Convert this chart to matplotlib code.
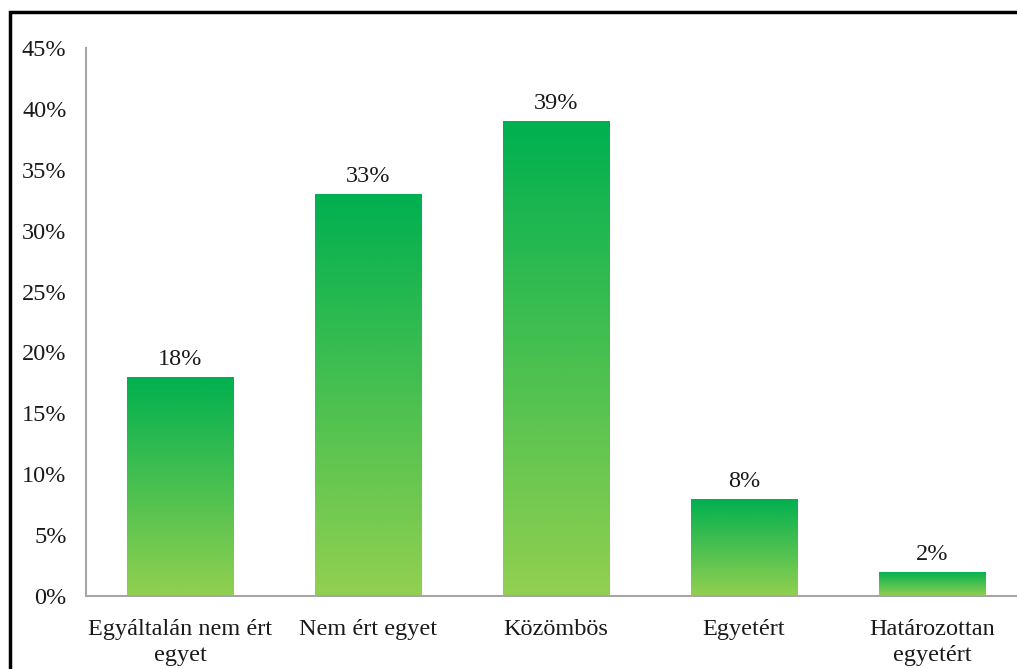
import matplotlib
matplotlib.use("Agg")
import matplotlib.pyplot as plt
import numpy as np
from matplotlib.patches import Rectangle
from matplotlib.colors import LinearSegmentedColormap

categories = ["Egyáltalán nem ért\negyet", "Nem ért egyet", "Közömbös", "Egyetért", "Határozottan\negyetért"]
values = [18, 33, 39, 8, 2]
yticks = [0, 5, 10, 15, 20, 25, 30, 35, 40, 45]

plt.rcParams['font.family'] = ['Liberation Serif', 'DejaVu Serif']

W, H = 1017, 669
fig = plt.figure(figsize=(W / 100, H / 100), dpi=100)
ax = fig.add_axes([86 / W, (H - 596) / H, 940 / W, 548 / H])

cmap = LinearSegmentedColormap.from_list("g", ["#92D050", "#00B050"])
grad = np.linspace(0, 1, 256).reshape(-1, 1)
x = np.arange(len(categories))
bw = 0.565
bars = ax.bar(x, values, width=bw, color="none", edgecolor="none", zorder=2)
for b, v in zip(bars, values):
    im = ax.imshow(grad, cmap=cmap, aspect="auto", origin="lower",
                   extent=[b.get_x(), b.get_x() + b.get_width(), 0, v], zorder=2)
    im.set_clip_path(b)
    ax.annotate(f"{v}%", (b.get_x() + b.get_width() / 2, v), xytext=(0, 5),
                textcoords="offset points", ha="center", va="bottom",
                fontsize=17.5, color="#1a1a1a")

ax.set_xlim(-0.5, len(categories) - 0.5)
ax.set_ylim(0, 45)
ax.set_yticks(yticks)
ax.set_yticklabels([f"{t}%" for t in yticks], fontsize=17.5, color="#1a1a1a")
ax.set_xticks(x)
ax.set_xticklabels(categories, fontsize=17.5, color="#1a1a1a", linespacing=1.3)
ax.tick_params(axis="both", length=0)
ax.tick_params(axis="y", pad=14)
ax.tick_params(axis="x", pad=16.5)
for s in ["top", "right"]:
    ax.spines[s].set_visible(False)
for s in ["left", "bottom"]:
    ax.spines[s].set_color("#A6A6A6")
    ax.spines[s].set_linewidth(1.5)

frame = Rectangle((9.5 / W, -0.1), 1.2, 1 - 12 / H + 0.1, transform=fig.transFigure,
                  fill=False, edgecolor="black", linewidth=2.5, zorder=10)
fig.patches.append(frame)

fig.savefig("out.png", dpi=100)
